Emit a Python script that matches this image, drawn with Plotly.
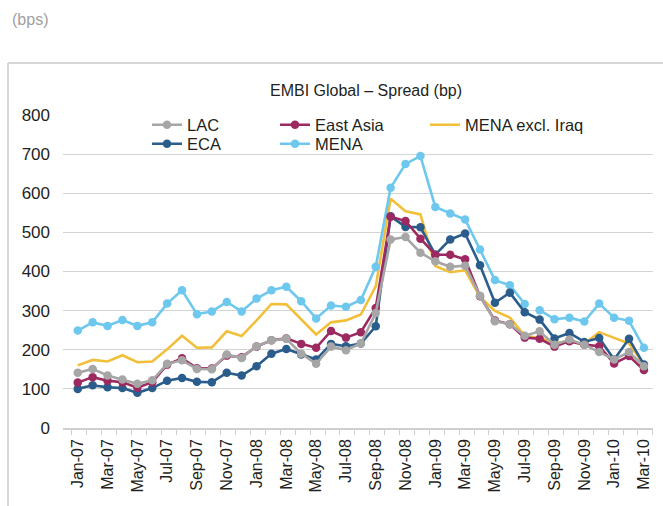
import plotly.graph_objects as go

months = ["Jan-07", "Feb-07", "Mar-07", "Apr-07", "May-07", "Jun-07", "Jul-07", "Aug-07", "Sep-07", "Oct-07", "Nov-07", "Dec-07",
          "Jan-08", "Feb-08", "Mar-08", "Apr-08", "May-08", "Jun-08", "Jul-08", "Aug-08", "Sep-08", "Oct-08", "Nov-08", "Dec-08",
          "Jan-09", "Feb-09", "Mar-09", "Apr-09", "May-09", "Jun-09", "Jul-09", "Aug-09", "Sep-09", "Oct-09", "Nov-09", "Dec-09",
          "Jan-10", "Feb-10", "Mar-10"]

lac = [141, 151, 134, 124, 113, 122, 164, 173, 151, 150, 188, 179, 209, 224, 228, 190, 164, 208, 199, 216,
       294, 482, 488, 448, 426, 412, 415, 338, 273, 265, 236, 247, 213, 226, 213, 194, 175, 194, 158]
eca = [100, 109, 104, 102, 90, 102, 121, 128, 118, 117, 141, 134, 158, 190, 202, 188, 175, 215, 209, 216,
       260, 541, 514, 513, 443, 482, 497, 416, 320, 346, 296, 277, 229, 243, 220, 230, 175, 228, 162]
east_asia = [116, 130, 121, 117, 103, 117, 162, 178, 153, 152, 185, 181, 208, 224, 229, 215, 205, 248, 231, 245,
             307, 540, 529, 484, 443, 443, 431, 337, 275, 265, 231, 228, 208, 222, 213, 209, 165, 184, 148]
mena_ex_iraq = [160, 174, 170, 186, 168, 170, 201, 236, 205, 206, 247, 235, 275, 317, 316, 277, 239, 270, 275, 290,
                362, 586, 554, 546, 414, 398, 403, 335, 299, 282, 236, 230, 218, 220, 215, 245, 230, 216, 162]
mena = [249, 270, 261, 276, 261, 270, 318, 352, 291, 298, 322, 298, 331, 352, 361, 324, 280, 313, 310, 327,
        412, 614, 675, 695, 565, 548, 533, 456, 378, 365, 317, 301, 278, 282, 272, 318, 282, 274, 205]
mena_gap_after = "Jul-09"   # the MENA line is not drawn between Jul-09 and Aug-09

y_ticks = [0, 100, 200, 300, 400, 500, 600, 700, 800]

W, H = 663, 506
L, R, T, B = 63, 10, 115, 78
PW, PH = W - L - R, H - T - B
FONT = "Liberation Sans, Arial, sans-serif"
FONT_X = "Liberation Sans, Arial, sans-serif"

def px(xp):
    return (xp - L) / PW

def py(yp):
    return (H - B - yp) / PH

x = list(range(len(months)))
g = months.index(mena_gap_after)
x_mena = x[:g + 1] + [g + 0.5] + x[g + 1:]
y_mena = mena[:g + 1] + [None] + mena[g + 1:]

C_LAC = "#a6a6a6"
C_EA = "#9c2a60"
C_MX = "#f2bf3a"
C_ECA = "#2b5d8c"
C_MENA = "#6ec8ee"

fig = go.Figure()

def add(name, xs, ys, color, markers, legend):
    fig.add_trace(go.Scatter(
        x=xs, y=ys, name=name, mode="lines+markers" if markers else "lines",
        line=dict(color=color, width=2.6),
        marker=dict(color=color, size=8.5),
        connectgaps=False, legend=legend, hoverinfo="skip"))

add("MENA excl. Iraq", x, mena_ex_iraq, C_MX, False, "legend3")
add("MENA", x_mena, y_mena, C_MENA, True, "legend5")
add("ECA", x, eca, C_ECA, True, "legend4")
add("East Asia", x, east_asia, C_EA, True, "legend2")
add("LAC", x, lac, C_LAC, True, "legend")

def leg(xp, yp):
    return dict(x=px(xp), y=py(yp), xref="paper", yref="paper",
                xanchor="left", yanchor="middle", bgcolor="rgba(0,0,0,0)",
                borderwidth=0, font=dict(family=FONT, size=16.5, color="#231f20"),
                itemwidth=30)

fig.update_layout(
    width=W, height=H,
    showlegend=True,
    margin=dict(l=L, r=R, t=T, b=B, autoexpand=False),
    paper_bgcolor="white", plot_bgcolor="white",
    font=dict(family=FONT, color="#231f20"),
    title=dict(text="EMBI Global – Spread (bp)", x=366 / W, y=1 - 90 / H,
               xref="container", yref="container", xanchor="center", yanchor="middle",
               font=dict(family=FONT, size=16, color="#231f20")),
    legend=leg(147, 125),
    legend2=leg(275, 125),
    legend3=leg(425, 125),
    legend4=leg(147, 144),
    legend5=leg(275, 144),
    xaxis=dict(range=[-0.99, 38.61], tickmode="array",
               tickvals=x[::2], ticktext=months[::2], tickangle=-90,
               tickfont=dict(family=FONT_X, size=16, color="#231f20"),
               ticks="", showgrid=False, zeroline=False, ticklabelstandoff=3,
               showline=True, linecolor="#cfcfcf", linewidth=1.5,
               minor=dict(tickmode="linear", tick0=-0.4, dtick=1, ticks="outside", ticklen=5,
                          tickcolor="#cfcfcf", tickwidth=1.2, showgrid=False)),
    yaxis=dict(range=[0, 800], tickmode="array", tickvals=y_ticks,
               tickfont=dict(family=FONT, size=17, color="#231f20"),
               showgrid=True, gridcolor="#d3d3d3", gridwidth=1.4,
               zeroline=False, showline=False, ticks="", ticklabelstandoff=12),
    shapes=[
        dict(type="line", xref="paper", yref="paper", x0=px(8), x1=px(663),
             y0=py(63), y1=py(63), line=dict(color="#c8c8c8", width=1.5)),
        dict(type="line", xref="paper", yref="paper", x0=px(8), x1=px(8),
             y0=py(63), y1=py(506), line=dict(color="#c8c8c8", width=1.5)),
    ],
    annotations=[dict(text="(bps)", xref="paper", yref="paper", x=px(10), y=py(20),
                      xanchor="left", yanchor="middle", showarrow=False,
                      font=dict(family=FONT, size=16, color="#a0a0a0"))],
)

fig.write_html("out.html", config={"displayModeBar": False},
               post_script="document.body.style.margin='0px';document.body.style.overflow='hidden';")
